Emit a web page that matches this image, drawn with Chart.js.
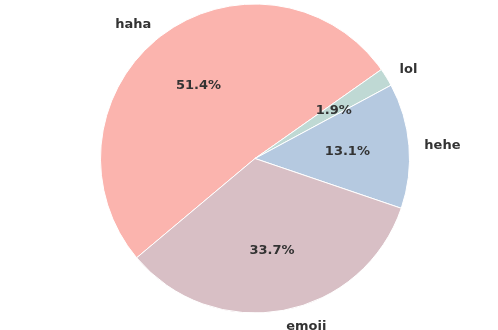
<!DOCTYPE html>
<html>
<head>
<meta charset="utf-8">
<script src="https://cdn.jsdelivr.net/npm/chart.js@4/dist/chart.umd.min.js"></script>
<style>
  html, body { margin: 0; padding: 0; background: #fff; }
  #wrap { width: 498px; height: 330px; }
</style>
</head>
<body>
<div id="wrap"><canvas id="pieChart" width="498" height="330"></canvas></div>
<script>
// dữ liệu biểu đồ
const labels = ['haha', 'lol', 'hehe', 'emoii'];
const percents = [51.4, 1.9, 13.1, 33.7];
const colors = ['#fbb4ae', '#bfd9d4', '#b5c9e0', '#d8bfc5'];

// vẽ nhãn ngoài và phần trăm trong
const labelPlugin = {
    id: 'pieLabels',
    afterDatasetsDraw(chart) {
        const ctx = chart.ctx;
        const meta = chart.getDatasetMeta(0);
        ctx.save();
        ctx.font = 'bold 13px "DejaVu Sans"';
        ctx.fillStyle = '#333333';
        ctx.textBaseline = 'middle';
        meta.data.forEach((arc, i) => {
            const mid = (arc.startAngle + arc.endAngle) / 2;
            const r = arc.outerRadius;
            const cos = Math.cos(mid), sin = Math.sin(mid);
            // phần trăm
            ctx.textAlign = 'center';
            ctx.fillText(percents[i].toFixed(1) + '%', arc.x + cos * r * 0.6, arc.y + sin * r * 0.6 + 1);
            // tên
            ctx.textAlign = cos >= 0 ? 'left' : 'right';
            ctx.fillText(labels[i], arc.x + cos * r * 1.1, arc.y + sin * r * 1.1 + 1);
        });
        ctx.restore();
    }
};

const ctxPie = document.getElementById('pieChart').getContext('2d');
const pieChart = new Chart(ctxPie, {
    type: 'pie',
    data: {
        labels: labels,
        datasets: [{
            data: percents,
            backgroundColor: colors,
            borderColor: '#ffffff',
            borderWidth: 1
        }]
    },
    options: {
        responsive: false,
        animation: false,
        rotation: 230, // bắt đầu ở góc dưới trái
        layout: { padding: { left: 100, right: 88, top: 3, bottom: 16 } },
        plugins: {
            legend: { display: false },
            tooltip: { enabled: false }
        }
    },
    plugins: [labelPlugin]
});
</script>
</body>
</html>
